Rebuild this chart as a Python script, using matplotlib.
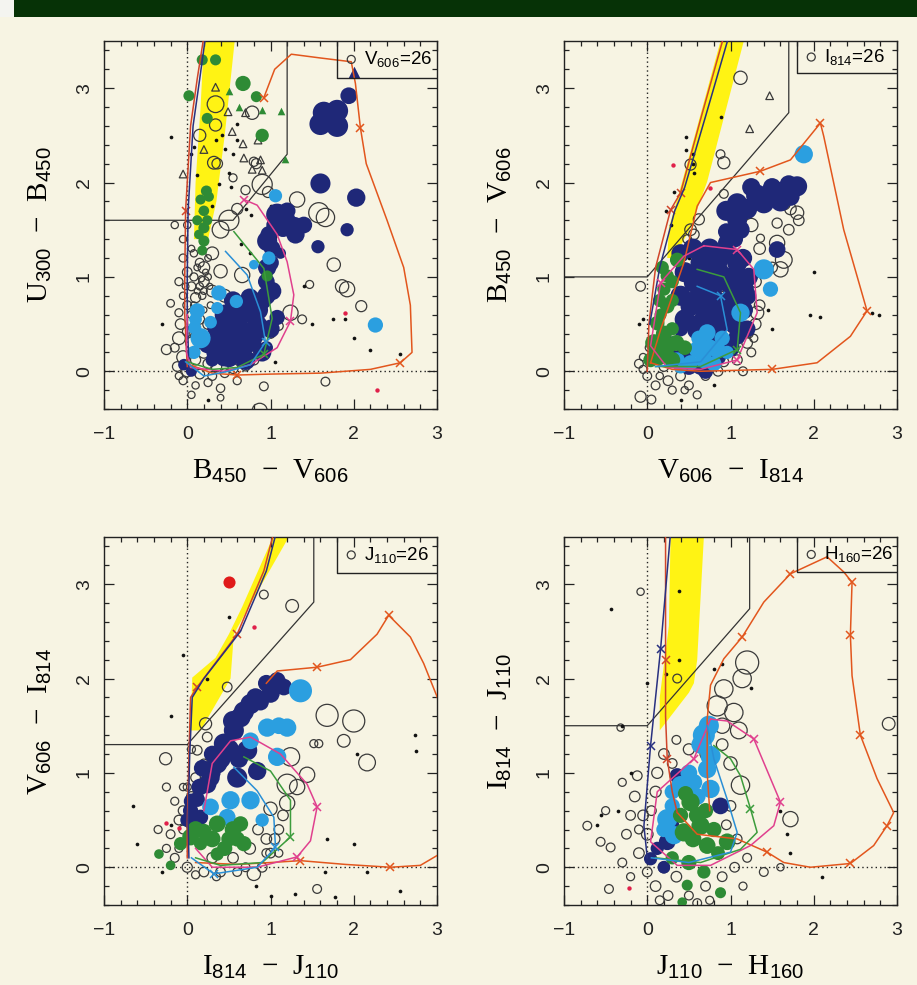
import numpy as np
import matplotlib
matplotlib.use('Agg')
import matplotlib.pyplot as plt
from matplotlib.patches import Polygon, Rectangle

plt.rcParams['mathtext.fontset'] = 'custom'
plt.rcParams['mathtext.rm'] = 'Liberation Sans'
plt.rcParams['mathtext.it'] = 'Liberation Sans'

# ---------------------------------------------------------------- data
# points are (colour, colour, magnitude); mags set the symbol size

# U300-B450 vs B450-V606
TL_OPEN = [(0.34,2.83,24.4),(0.78,2.74,24.9),(0.34,2.61,25.1),(0.15,2.5,25.1),(0.32,2.21,25.0),
           (0.9,1.98,24.0),(1.32,1.82,24.6),(1.58,1.68,24.0),(1.66,1.63,24.2),(0.5,1.6,24.0),
           (0.4,1.5,24.4),(1.76,1.13,24.9),(1.92,0.87,24.6),(1.86,0.9,24.9),(2.09,0.69,25.3),
           (1.24,0.62,24.6),(0.66,1.02,24.6),(0.4,1.06,24.9),(0.2,1.1,25.2),(-0.25,0.23,25.5),
           (0.87,-0.42,24.6),(0.92,-0.16,25.8),(1.66,-0.11,25.8),(1.47,0.92,26.0),(1.38,0.55,25.8),
           (0.97,1.9,25.3),(0.6,1.72,25.3),(0.7,1.92,25.7),(0.55,2.05,26.0),(0.83,2.2,25.5),
           (0.8,2.22,25.7),(0.36,2.2,25.4),
           (-0.05,1.2,26.0),(0.0,1.05,25.6),(-0.1,0.95,26.0),(0.05,0.9,25.8),(0.08,1.0,26.0),
           (-0.05,0.8,26.2),(0.1,0.78,25.5),(0.0,0.7,25.8),(-0.1,0.62,26.0),(0.05,0.6,26.0),
           (0.15,0.55,25.6),(0.25,0.5,25.4),(-0.08,0.5,25.4),(0.0,0.42,25.6),(0.1,0.4,25.2),
           (-0.1,0.35,25.0),(0.05,0.3,25.2),(0.2,0.2,25.2),(-0.05,0.15,25.0),(0.1,0.12,25.5),
           (0.25,0.08,25.5),(0.35,0.05,25.4),(-0.12,0.05,25.6),(0.0,0.0,25.3),(0.15,-0.03,25.6),
           (0.3,-0.05,25.8),(0.45,-0.02,25.8),(0.55,0.03,25.5),(-0.05,-0.1,26.0),(0.1,-0.15,26.2),
           (0.25,-0.12,26.0),(0.4,-0.18,25.9),(0.6,-0.1,26.0),(0.7,0.05,25.8),(0.8,0.12,25.5),
           (0.92,0.2,25.6),(1.0,0.4,25.6),(1.1,0.48,25.8),(0.08,1.25,26.2),(0.15,1.15,25.8),
           (0.2,0.95,25.4),(0.3,0.85,25.2),(0.45,0.8,25.0),(0.3,1.25,25.0),(-0.05,1.4,26.2),
           (0.0,1.55,26.2),(-0.2,0.72,26.1),(-0.15,1.55,26.2),
           (0.15,0.9,26.2),(0.2,0.85,26.4),(0.25,1.0,26.4),(0.12,1.1,26.4),(0.18,0.8,26.2),
           (0.28,0.7,26.4),(0.25,1.2,26.4),(0.05,1.3,26.4),(-0.02,0.9,26.4),(0.1,0.55,26.3),
           (-0.15,0.25,25.8),(-0.1,-0.05,26.2),(0.05,-0.25,26.2),(0.4,-0.28,26.4),(0.22,1.05,26.6),
           (0.17,0.98,26.6),(0.27,0.9,26.6),(0.12,0.85,26.6),(0.08,0.7,26.4),(0.2,0.65,26.6)]
TL_NAVY = [(1.94,2.92,24.4),(1.64,2.74,23.8),(1.8,2.76,23.8),(1.6,2.62,23.8),(1.8,2.6,23.8),
           (1.6,1.99,24.0),(2.03,1.84,24.2),(1.92,1.5,24.9),(1.57,1.32,24.9),(1.08,1.66,23.8),
           (1.28,1.52,23.8),(1.18,1.6,24.0),(0.96,1.38,24.0),(1.12,1.25,25.3),(0.96,1.1,24.2),
           (1.02,0.85,24.2),(0.72,0.64,23.7),(0.52,0.57,24.0),(0.36,0.46,24.0),(0.52,0.32,23.8),
           (0.76,0.32,23.8),(0.84,0.49,24.0),(0.24,0.28,24.4),(0.44,0.14,24.4),(0.64,0.25,24.0),
           (-0.04,0.07,25.2),(1.08,0.57,24.6),(0.9,0.75,24.2),(0.62,0.45,23.8),(0.3,0.12,24.9),
           (0.95,0.25,24.9),
           (0.35,0.2,24.0),(0.5,0.15,24.0),(0.7,0.12,24.0),(0.9,0.2,24.2),(0.4,0.4,23.8),
           (0.6,0.38,23.8),(0.8,0.4,23.8),(1.0,0.45,24.2),(0.45,0.6,24.0),(0.65,0.62,23.8),
           (0.85,0.65,24.0),(0.55,0.75,24.2),(0.75,0.78,24.2),(0.95,0.8,24.2),(0.95,0.95,24.4),
           (1.0,1.15,24.4),(1.02,1.3,24.4),(0.98,1.45,24.4),(1.05,1.55,24.4),(1.15,1.52,24.2),
           (1.3,1.45,24.2),(1.4,1.55,24.4),(1.2,1.7,24.4),(0.05,0.0,25.3)]
TL_LBLUE = [(1.06,1.86,24.9),(0.98,1.2,24.9),(0.8,1.13,25.6),(0.38,0.83,24.6),(0.59,0.74,24.9),
            (0.36,0.67,25.1),(0.12,0.64,24.6),(0.16,0.35,24.0),(0.09,0.46,24.9),(2.26,0.49,24.6),
            (0.08,0.2,24.9),(0.28,0.52,25.0),(0.1,0.55,25.0)]
TL_GREEN = [(0.18,3.3,25.3),(0.34,3.3,25.3),(0.67,3.05,24.6),(0.02,2.92,25.3),(0.83,2.91,25.3),
            (0.24,2.68,25.3),(0.9,2.5,24.9),(0.23,1.91,25.3),(0.16,1.82,25.5),(0.2,1.7,25.4),
            (0.2,1.52,25.3),(0.2,1.38,25.3),(0.18,1.28,25.5),(0.96,1.01,25.3),(0.12,1.6,25.5),
            (0.26,1.85,25.5),(0.24,1.6,25.5),(0.14,1.45,25.6)]
TL_GREEN_TRI = [(0.5,2.97),(0.62,2.8),(0.9,2.77),(1.13,2.76),(1.17,2.25)]
TL_OPEN_TRI = [(0.34,3.01),(0.49,2.75),(0.7,2.74),(0.54,2.54),(0.67,2.41),(0.68,2.26),
               (0.88,2.24),(0.2,2.35),(0.78,2.14),(0.9,2.13),(-0.05,2.09),(0.85,2.45)]
TL_NAVY_TRI = [(2.0,3.17)]
TL_DOTS = [(-0.2,2.48),(0.08,2.38),(0.42,2.5),(0.55,2.3),(0.6,2.45),(0.45,2.36),(0.5,2.1),
           (0.38,1.98),(0.52,1.95),(1.05,1.42),(1.0,1.75),(1.75,0.55),(2.0,0.35),(1.9,0.55),
           (2.2,0.22),(2.55,0.18),(1.4,0.9),(1.5,0.5),(0.65,1.35),(0.75,1.25),(0.25,-0.3),
           (1.05,0.1),(0.55,0.6),(-0.3,0.5),(0.15,1.7),(0.7,1.72),(0.76,1.66),(0.35,2.45),
           (0.6,2.62),(0.04,2.3),(0.12,2.08),(0.3,1.75)]
TL_RED = [(1.9,0.62),(2.28,-0.2)]

# B450-V606 vs V606-I814
TR_OPEN = [(1.12,3.11,24.9),(0.52,2.19,25.3),(0.92,2.21,25.1),(0.88,2.3,25.8),(0.62,1.61,25.3),
           (0.52,1.5,25.2),(0.56,1.45,25.4),(1.64,1.78,24.9),(1.8,1.68,24.9),(1.72,1.72,25.2),
           (1.56,1.57,25.5),(1.56,1.36,24.6),(1.64,1.18,24.4),(1.6,1.08,24.6),(1.32,0.62,24.9),
           (1.3,0.5,25.3),(1.08,0.12,25.5),(0.92,0.1,25.6),(-0.08,-0.27,25.3),(-0.08,0.9,25.6),
           (1.25,0.2,25.8),(1.15,0.0,25.8),(0.4,-0.05,25.6),(0.25,-0.1,25.6),(0.0,-0.05,25.8),
           (-0.1,0.08,25.8),(0.1,-0.15,25.8),(0.5,-0.15,25.8),(0.7,-0.05,25.8),(0.85,0.0,25.6),
           (0.2,0.05,25.6),(1.22,0.4,25.8),(1.2,0.3,25.4),(0.88,0.9,25.3),(0.84,0.7,25.6),
           (1.28,0.35,26.0),(1.55,1.95,25.8),(0.92,1.88,25.8),(1.36,1.41,26.0),(0.48,1.4,25.8),
           (-0.05,0.02,26.0),(0.3,-0.2,26.0),(0.6,-0.25,26.0),
           (1.25,1.55,24.9),(1.35,1.3,25.2),(1.5,1.1,25.4),(1.3,0.95,25.2),(1.35,0.7,25.4),
           (1.7,1.5,25.4),(1.82,1.6,25.4),(0.15,-0.05,26.2),(0.45,-0.2,26.2),(0.05,-0.3,25.8),
           (-0.05,0.15,26.2),(0.02,0.25,26.2)]
TR_NAVY = [(1.08,1.78,24.0),(1.32,1.86,23.8),(1.56,1.89,23.8),(1.8,1.96,24.0),(1.72,1.85,24.2),
           (1.08,1.61,24.0),(1.12,1.5,24.2),(0.96,1.36,24.2),(1.56,1.29,24.4),(0.64,1.15,24.0),
           (0.84,1.18,23.8),(1.08,1.15,24.0),(0.56,0.94,24.0),(0.76,0.87,23.7),(1.0,0.94,23.7),
           (1.16,0.87,24.0),(0.52,0.69,24.0),(0.72,0.62,23.7),(0.92,0.58,23.7),(1.16,0.65,24.2),
           (0.6,0.44,24.0),(0.84,0.34,23.8),(1.08,0.37,24.4),(0.44,0.16,24.2),(0.64,0.05,24.4),
           (0.84,0.16,24.2),(0.4,0.45,24.6),(0.3,0.3,24.9),
           (0.4,1.25,24.2),(0.55,1.3,24.0),(0.75,1.3,24.0),(0.95,1.25,24.0),(1.15,1.2,24.2),
           (0.45,1.05,24.0),(0.65,1.0,23.8),(0.85,1.05,23.8),(1.05,1.0,23.8),(1.22,1.0,24.2),
           (0.4,0.8,24.0),(0.6,0.75,23.8),(0.8,0.75,23.8),(1.0,0.75,23.8),(1.2,0.8,24.2),
           (0.45,0.55,24.0),(0.65,0.5,23.8),(0.85,0.5,23.8),(1.05,0.5,24.0),(1.2,0.45,24.4),
           (1.0,0.25,24.2),(0.3,0.15,24.6),(0.5,0.05,24.4),(0.7,0.0,24.6),
           (0.95,1.7,24.0),(1.2,1.72,24.0),(1.4,1.78,24.0),(1.6,1.8,24.0),(1.5,1.95,24.2),
           (1.25,1.95,24.2),(1.7,1.98,24.2),(0.95,1.48,24.4),(1.05,1.4,24.4)]
TR_LBLUE = [(1.88,2.3,24.2),(1.4,1.08,24.0),(1.48,0.87,24.6),(1.12,0.62,24.2),(0.72,0.41,24.4),
            (0.6,0.23,24.4),(0.84,0.23,24.4),(0.36,0.12,24.6),(0.52,0.09,24.6),(0.96,0.2,24.9),
            (0.62,0.35,24.6),(0.75,0.25,24.4),(0.9,0.35,24.6),(0.68,0.12,24.4),(0.8,0.08,24.6),
            (0.4,0.05,24.8)]
TR_GREEN = [(0.36,1.18,24.7),(0.24,1.01,24.9),(0.2,0.87,24.9),(0.24,0.69,24.7),(0.12,0.51,24.7),
            (0.08,0.3,24.3),(0.24,0.27,24.3),(0.04,0.12,24.7),(0.3,0.45,24.9),(0.16,0.6,25.1),
            (0.1,0.18,24.6),(0.18,1.1,24.9),(0.3,0.95,24.9),(0.15,0.75,24.9),(0.3,0.75,24.9),
            (0.2,0.4,24.5),(0.35,0.3,24.5),(0.45,0.25,24.7),(0.15,0.15,24.5),(0.3,0.12,24.5)]
TR_GREEN_TRI = []
TR_OPEN_TRI = [(1.47,2.92),(1.23,2.57)]
TR_NAVY_TRI = []
TR_DOTS = [(0.32,1.9),(0.28,1.55),(0.55,2.2),(0.55,2.3),(0.56,2.1),(0.47,2.48),(0.47,2.35),
           (-0.1,0.5),(-0.05,0.55),(1.95,0.6),(2.08,0.58),(2.7,0.62),(2.78,0.6),(0.4,-0.3),
           (0.8,-0.15),(1.45,0.65),(1.5,0.45),(2.0,1.05),(0.22,1.7),(0.5,1.2),(0.89,2.69)]
TR_RED = [(0.31,2.19),(0.75,1.94)]

# V606-I814 vs I814-J110
BL_OPEN = [(1.26,2.77,25.0),(0.92,2.89,25.8),(0.48,1.91,25.6),(0.22,1.52,25.1),(-0.26,1.15,25.1),
           (1.68,1.61,23.8),(2.0,1.55,23.8),(1.88,1.34,25.0),(2.16,1.11,24.4),(1.24,1.17,24.2),
           (1.2,0.88,24.0),(1.44,0.98,24.6),(1.32,0.85,24.6),(1.2,0.68,24.6),(1.0,0.62,24.9),
           (0.8,-0.07,24.9),(1.56,-0.23,25.8),(0.12,1.24,25.6),(0.24,1.38,25.6),(0.5,1.35,26.0),
           (1.52,1.31,26.0),(1.58,1.31,26.0),(0.95,0.3,25.4),(1.0,0.15,25.6),(0.85,0.4,25.4),
           (1.1,0.4,25.6),(0.9,0.0,25.6),(0.6,-0.05,25.8),(0.4,-0.05,25.6),(0.2,-0.05,25.6),
           (0.0,0.0,25.5),(-0.15,0.1,25.8),(-0.05,0.4,25.8),(-0.1,0.5,25.6),(-0.05,0.6,25.6),
           (0.05,0.75,25.6),(0.1,0.95,25.6),(0.2,1.1,25.8),(-0.15,0.7,26.0),(0.0,0.85,26.0),
           (-0.2,0.35,25.8),(0.3,0.1,25.4),(0.55,0.1,25.4),(0.75,0.2,25.2),(1.1,0.15,26.0),
           (0.05,1.25,26.0),(-0.35,0.4,26.0),(-0.25,0.85,26.0),
           (1.05,0.3,25.4),(1.15,0.55,25.4),(0.95,0.15,25.8),(-0.1,0.2,26.0),(0.1,-0.08,26.0),
           (-0.25,0.2,26.0),(-0.05,0.85,26.2),(0.35,-0.1,26.0),(0.7,0.0,25.8)]
BL_NAVY = [(1.16,1.91,24.4),(1.0,1.84,24.2),(0.76,1.73,24.0),(0.64,1.59,24.0),(0.56,1.45,24.0),
           (0.44,1.31,24.0),(0.72,1.24,24.0),(0.36,1.1,24.0),(0.6,0.95,24.0),(0.84,1.02,24.2),
           (0.24,0.88,24.2),(0.04,0.6,24.6),(0.16,0.53,24.6),(0.88,1.75,24.4),(0.3,1.0,24.4),
           (0.12,0.72,24.6),
           (0.05,0.7,24.6),(0.15,0.85,24.4),(0.28,0.95,24.2),(0.4,1.15,24.0),(0.5,1.25,24.0),
           (0.55,1.55,24.0),(0.68,1.65,24.0),(0.82,1.8,24.2),(0.95,1.95,24.4),(1.08,1.98,24.4),
           (0.62,1.15,24.2),(0.3,1.2,24.4),(0.18,1.05,24.4),(0.0,0.5,24.8),(0.1,0.45,24.8)]
BL_LBLUE = [(1.36,1.87,23.7),(1.2,1.48,24.2),(0.96,1.48,24.2),(0.76,1.34,24.4),(1.08,1.17,24.2),
            (0.52,0.71,24.2),(0.76,0.71,24.2),(0.28,0.64,24.4),(0.48,0.53,24.4),(1.1,1.5,24.4),
            (0.9,0.5,24.9)]
BL_GREEN = [(0.04,0.32,24.4),(-0.08,0.25,24.9),(0.16,0.25,24.9),(0.36,0.46,24.4),(0.64,0.46,24.6),
            (0.68,0.25,24.6),(0.36,0.14,24.9),(-0.34,0.14,25.6),(-0.2,0.02,25.6),(0.2,0.38,24.6),
            (0.5,0.3,24.6),(0.1,0.4,24.4),(0.3,0.3,24.4),(0.55,0.4,24.4),(0.45,0.2,24.6),
            (0.6,0.3,24.6)]
BL_GREEN_TRI = []
BL_OPEN_TRI = []
BL_NAVY_TRI = []
BL_DOTS = [(-0.65,0.65),(-0.6,0.25),(-0.2,1.6),(0.5,2.65),(0.24,2.0),(-0.05,2.25),(2.04,1.2),
           (2.74,1.4),(2.75,1.23),(1.68,0.3),(2.0,0.25),(2.16,-0.05),(1.78,-0.32),(1.3,-0.28),
           (1.0,-0.3),(0.82,-0.2),(-0.3,-0.05),(-0.2,0.45),(1.65,-0.05),(2.55,-0.25)]
BL_RED = [(0.8,2.55),(-0.1,0.42),(-0.25,0.47)]
BL_BIG_RED = [(0.5,3.02,25.1)]

# I814-J110 vs J110-H160
BR_OPEN = [(1.2,2.17,23.7),(1.14,2.0,24.2),(0.92,1.89,24.2),(0.84,1.71,24.0),(1.04,1.64,24.2),
           (1.1,1.45,24.4),(0.9,1.5,24.6),(1.12,0.87,24.2),(1.72,0.51,24.6),(2.9,1.52,25.0),
           (0.36,2.0,25.8),(-0.08,2.92,26.2),(-0.72,0.44,25.8),(-0.56,0.27,25.8),(-0.44,0.21,25.8),
           (-0.46,-0.23,25.8),(-0.32,1.48,26.2),(-0.12,0.97,25.6),(0.12,1.0,25.3),(0.2,1.2,25.4),
           (0.1,0.8,25.3),(-0.15,0.75,25.4),(-0.2,0.55,25.6),(-0.05,0.55,25.4),(0.0,0.35,25.2),
           (-0.25,0.35,25.6),(-0.1,0.15,25.4),(0.2,0.0,25.3),(0.35,-0.1,25.4),(0.1,-0.2,25.4),
           (0.25,-0.3,25.6),(0.5,-0.3,25.8),(0.7,-0.2,25.6),(0.9,-0.1,25.6),(1.05,0.0,25.6),
           (1.2,0.1,25.8),(0.95,0.45,25.6),(1.0,1.1,24.9),(0.7,1.2,25.3),(1.4,-0.05,25.8),
           (-0.3,0.05,25.8),(-0.3,0.9,26.0),(0.6,-0.38,25.8),(0.15,-0.35,25.8),(1.6,0.0,26.2),
           (1.08,0.3,25.6),(0.5,1.25,25.3),(-0.5,0.6,26.0),
           (0.3,1.1,25.6),(0.35,1.35,25.8),(0.9,1.3,25.2),(1.0,0.65,25.4),(0.05,0.6,25.6),
           (-0.1,0.4,25.8),(0.0,-0.05,25.6),(-0.2,-0.1,26.0),(0.75,-0.35,26.0),(1.15,-0.2,26.0)]
BR_NAVY = [(0.36,0.97,24.6),(0.88,0.65,24.4),(0.24,0.27,24.4),(0.04,0.09,24.9),(0.5,0.95,24.6),
           (0.12,0.2,24.9),(0.2,0.0,25.0),(0.3,0.45,24.8)]
BR_LBLUE = [(0.68,1.4,23.8),(0.76,1.18,24.0),(0.72,1.04,24.2),(0.4,0.87,24.2),(0.76,0.83,24.2),
            (0.24,0.51,24.0),(0.32,0.34,24.2),(0.56,0.9,24.4),(0.3,0.65,24.6),(0.64,1.3,24.2),
            (0.74,1.5,24.0),(0.5,1.0,24.4),(0.3,0.8,24.6),(0.2,0.4,24.6),(0.6,0.75,24.4)]
BR_GREEN = [(0.52,0.69,24.2),(0.64,0.44,24.2),(0.44,0.37,24.2),(0.72,0.23,24.4),(0.96,0.27,24.4),
            (0.68,-0.05,24.9),(0.48,-0.19,25.3),(0.88,-0.27,25.3),(0.42,-0.37,25.6),(0.6,0.55,24.4),
            (0.46,0.78,24.6),(0.3,0.1,24.9),(0.5,0.05,24.6),(0.55,0.3,24.4),(0.8,0.4,24.6),
            (0.7,0.6,24.6),(0.4,0.55,24.6),(0.85,0.15,24.8)]
BR_GREEN_TRI = []
BR_OPEN_TRI = []
BR_NAVY_TRI = []
BR_DOTS = [(-0.44,2.74),(-0.55,0.55),(-0.6,0.45),(-0.3,1.5),(0.38,2.93),(0.38,2.2),(0.22,2.05),
           (0.0,1.95),(-0.2,1.0),(1.68,0.35),(1.6,0.6),(-0.35,0.6),(0.8,2.1),(0.9,2.15),
           (1.72,0.15),(2.1,-0.1),(1.25,1.9)]
BR_RED = [(-0.22,-0.22)]

# model tracks (x, y); *_X lists the track vertices carrying a cross
TL_TRACKS = {
    'orange': [(0.0,0.08),(0.3,-0.02),(0.6,-0.04),(1.0,-0.03),(1.6,-0.02),(2.2,0.02),(2.56,0.09),
               (2.7,0.2),(2.68,0.7),(2.6,1.1),(2.4,1.6),(2.15,2.2),(2.08,2.58),(2.02,3.05),
               (1.97,3.28),(1.6,3.32),(1.25,3.36),(1.05,3.2),(0.92,2.9)],
    'stem': [(0.0,0.05),(-0.03,0.6),(-0.03,1.0),(-0.02,1.7),(0.04,2.6),(0.12,3.1),(0.2,3.55)],
    'navy': [(0.02,0.02),(0.0,0.6),(0.0,1.0),(0.01,1.7),(0.07,2.6),(0.15,3.1),(0.22,3.55)],
    'magenta': [(0.0,0.6),(-0.01,0.2),(0.04,0.04),(0.44,0.0),(0.76,0.07),(1.08,0.25),(1.24,0.53),
                (1.28,0.81),(1.2,1.16),(1.08,1.45),(0.84,1.76),(0.68,1.82)],
    'green': [(0.0,0.1),(0.3,0.02),(0.6,0.04),(0.92,0.18),(1.02,0.56),(0.92,1.09),(0.56,1.48)],
    'blue': [(-0.02,0.1),(0.2,-0.05),(0.5,0.0),(0.76,0.07),(0.94,0.31),(0.88,0.63),(0.72,1.02),
             (0.46,1.27)],
}
TL_X = {'orange': [2, 6, 12, 18], 'stem': [3], 'magenta': [6, 11], 'green': [3], 'blue': [4]}

TR_TRACKS = {
    'orange': [(0.04,0.09),(0.3,0.02),(0.64,0.0),(1.5,0.02),(2.04,0.09),(2.44,0.37),(2.64,0.64),
               (2.36,1.5),(2.12,2.49),(2.08,2.63),(1.72,2.24),(1.36,2.12),(0.76,2.0),(0.6,1.75),
               (0.44,1.15),(0.16,0.44),(0.04,0.09)],
    'stem': [(0.0,0.0),(0.02,0.5),(0.1,1.1),(0.28,1.71),(0.4,1.89),(0.65,2.7),(0.92,3.55)],
    'navy': [(0.03,0.5),(0.15,1.1),(0.33,1.7),(0.45,1.95),(0.7,2.7),(0.98,3.55)],
    'magenta': [(0.68,1.33),(1.08,1.29),(1.28,1.08),(1.32,0.62),(1.08,0.12),(0.64,0.02),
                (0.24,0.04),(0.04,0.27),(0.16,0.94),(0.44,1.22),(0.68,1.33)],
    'green': [(0.1,0.05),(0.64,0.05),(1.08,0.23),(1.12,0.62),(0.92,1.0),(0.6,1.08)],
    'blue': [(0.1,0.05),(0.64,0.1),(0.96,0.44),(0.88,0.8),(0.6,0.9)],
}
TR_X = {'orange': [3, 6, 9, 11], 'stem': [3, 4], 'magenta': [1, 4, 8], 'green': [2], 'blue': [3]}

BL_TRACKS = {
    'orange': [(0.1,0.05),(0.6,0.03),(1.0,0.05),(1.36,0.07),(1.9,0.03),(2.44,0.0),(2.8,0.02),
               (3.05,0.15)],
    'orange2': [(0.95,1.95),(1.08,2.08),(1.56,2.12),(1.96,2.2),(2.28,2.47),(2.42,2.67),
                (2.68,2.44),(2.84,2.16),(3.05,1.7)],
    'stem': [(0.0,0.1),(0.0,0.46),(0.02,1.17),(0.04,1.8),(0.12,1.91),(0.6,2.47),(0.92,3.14),
             (1.04,3.55)],
    'navy': [(0.02,0.1),(0.01,0.5),(0.03,1.2),(0.06,1.8),(0.2,2.0),(0.64,2.5),(0.95,3.14),
             (1.07,3.55)],
    'magenta': [(0.1,0.2),(0.3,0.0),(0.84,0.0),(1.32,0.11),(1.48,0.28),(1.56,0.64),(1.44,0.88),
                (1.12,1.2),(0.76,1.38),(0.52,1.34),(0.3,1.1),(0.2,0.6)],
    'green': [(0.1,0.1),(0.4,0.02),(0.9,0.05),(1.24,0.32),(1.24,0.71),(1.0,1.02),(0.68,1.17)],
    'blue': [(0.05,0.1),(0.32,-0.07),(0.84,0.0),(1.06,0.21),(1.04,0.53),(0.84,0.81),(0.56,1.06)],
}
BL_X = {'orange': [3, 5], 'orange2': [2, 5], 'stem': [4, 5], 'magenta': [3, 5], 'green': [3],
        'blue': [1, 3]}

BR_TRACKS = {
    'orange': [(0.36,0.58),(0.6,0.35),(1.08,0.3),(1.44,0.16),(1.64,0.05),(1.96,0.0),(2.44,0.04),
               (2.72,0.23),(2.88,0.44),(2.96,0.58),(2.76,0.94),(2.56,1.4),(2.46,2.03),(2.44,2.46),
               (2.46,3.02),(2.36,3.13),(2.16,3.29),(1.72,3.11),(1.4,2.81),(1.14,2.44),(0.92,2.21),
               (0.76,1.93),(0.72,1.57),(0.72,1.0),(0.75,0.6)],
    'stem': [(0.36,0.58),(0.3,0.8),(0.24,1.15),(0.22,1.6),(0.22,2.2),(0.22,3.55)],
    'navy': [(0.0,0.1),(-0.04,0.44),(0.04,1.29),(0.16,2.31),(0.28,3.55)],
    'magenta': [(0.76,1.57),(0.96,1.55),(1.28,1.36),(1.6,0.69),(1.52,0.44),(1.24,0.23),(0.76,0.02),
                (0.36,0.02),(0.04,0.27),(0.12,0.8),(0.56,1.15),(0.76,1.57)],
    'green': [(0.1,0.1),(0.64,0.05),(1.12,0.19),(1.32,0.37),(1.24,0.62),(1.12,0.97),(1.0,1.15),
              (0.8,1.29)],
    'blue': [(0.05,0.1),(0.5,0.05),(1.0,0.16),(1.08,0.37),(0.96,0.72),(0.8,1.15),(0.72,1.5)],
}
BR_X = {'orange': [3, 6, 8, 11, 13, 14, 17, 19], 'stem': [2, 4], 'navy': [2, 3],
        'magenta': [2, 3, 10], 'green': [4]}

# stellar locus (yellow band) and selection boundaries
TL_BAND = [(0.2,3.5),(0.57,3.5),(0.45,2.5),(0.35,1.8),(0.25,1.4),(0.08,1.4),(0.1,2.0),(0.16,2.8)]
TR_BAND = [(0.88,3.5),(1.16,3.5),(0.72,2.01),(0.52,1.52),(0.32,1.2),(0.24,1.2),(0.26,1.52),
           (0.42,2.01)]
BL_BAND = [(1.03,3.5),(1.22,3.5),(0.74,2.76),(0.56,2.47),(0.52,2.0),(0.16,1.45),(0.04,1.45),
           (0.06,2.01),(0.34,2.22),(0.5,2.47),(0.66,2.76)]
BR_BAND = [(0.28,3.5),(0.68,3.5),(0.6,2.2),(0.56,1.95),(0.5,1.85),(0.15,1.45),(0.15,1.8),
           (0.26,2.56)]
TL_CUT = [(-1.0,1.6),(0.55,1.6),(1.2,2.3),(1.2,3.5)]
TR_CUT = [(-1.0,1.0),(0.0,1.0),(1.7,2.74),(1.7,3.5)]
BL_CUT = [(-1.0,1.3),(0.0,1.3),(1.52,2.81),(1.52,3.5)]
BR_CUT = [(-1.0,1.5),(0.0,1.5),(1.23,2.74),(1.23,3.5)]
TL_KEY = 3.11
TR_KEY = 3.16
BL_KEY = 3.12
BR_KEY = 3.13

XLABELS = ['B$_{450}$  −  V$_{606}$', 'V$_{606}$  −  I$_{814}$',
           'I$_{814}$  −  J$_{110}$', 'J$_{110}$  −  H$_{160}$']
YLABELS = ['U$_{300}$  −  B$_{450}$', 'B$_{450}$  −  V$_{606}$',
           'V$_{606}$  −  I$_{814}$', 'I$_{814}$  −  J$_{110}$']
KEYLABELS = ['V$_{606}$=26', 'I$_{814}$=26', 'J$_{110}$=26', 'H$_{160}$=26']

# ---------------------------------------------------------------- styling
PAPER = '#f7f4e3'
NAVY = '#1f2878'
LBLUE = '#2b9fe0'
GREEN = '#2e8b35'
YELLOW = '#fff314'
EDGE = '#3a3a3a'
TRACK_COL = {'orange': '#e2561d', 'orange2': '#e2561d', 'stem': '#d0452a', 'navy': '#283080',
             'magenta': '#e0408e', 'green': '#3c9c3c', 'blue': '#2a8fd6'}


def msize(m):
    d = 8.0 * 10 ** (0.2 * (26.0 - np.asarray(m, dtype=float)))  # diameter in pixels
    return (d * 0.72) ** 2


def xy(pts):
    return np.array(pts, dtype=float)


def draw_panel(ax, p):
    ax.set_facecolor(PAPER)
    ax.set_xlim(-1, 3)
    ax.set_ylim(-0.4, 3.5)

    ax.add_patch(Polygon(p['band'], closed=True, facecolor=YELLOW, edgecolor='none', zorder=1))
    c = xy(p['cut'])
    ax.plot(c[:, 0], c[:, 1], color='#333333', lw=0.9, zorder=2)
    ax.axhline(0, color='#222222', lw=1.0, ls=(0, (1, 2.2)), zorder=2)
    ax.axvline(0, color='#222222', lw=1.0, ls=(0, (1, 2.2)), zorder=2)

    o = xy(p['open'])
    ax.scatter(o[:, 0], o[:, 1], s=msize(o[:, 2]), facecolors='none', edgecolors=EDGE,
               linewidths=0.9, zorder=3)
    d = xy(p['dots'])
    ax.scatter(d[:, 0], d[:, 1], s=7, color='#111111', lw=0, zorder=3)
    if p['otri']:
        t = xy(p['otri'])
        ax.scatter(t[:, 0], t[:, 1], s=30, marker='^', facecolors='none', edgecolors=EDGE,
                   linewidths=0.9, zorder=3)
    for key, col in (('navy', NAVY), ('lblue', LBLUE), ('green', GREEN)):
        f = xy(p[key])
        ax.scatter(f[:, 0], f[:, 1], s=msize(f[:, 2]), color=col, lw=0, zorder=4)
    if p['gtri']:
        t = xy(p['gtri'])
        ax.scatter(t[:, 0], t[:, 1], s=30, marker='^', color=GREEN, lw=0, zorder=4)
    if p['ntri']:
        t = xy(p['ntri'])
        ax.scatter(t[:, 0], t[:, 1], s=70, marker='^', color=NAVY, lw=0, zorder=4)
    r = xy(p['red'])
    ax.scatter(r[:, 0], r[:, 1], s=10, color='#e0204a', lw=0, zorder=4)
    if p.get('bigred'):
        b = xy(p['bigred'])
        ax.scatter(b[:, 0], b[:, 1], s=msize(b[:, 2]), color='#e01a1a', lw=0, zorder=4)

    for name, pts in p['tracks'].items():
        t = xy(pts)
        ax.plot(t[:, 0], t[:, 1], color=TRACK_COL[name], lw=1.1, zorder=5,
                marker='x', markersize=6, markeredgewidth=1.1,
                markevery=p['marks'].get(name, []))

    # key box in the upper right corner
    k = p['key']
    ax.plot([1.8, 1.8, 3.0], [3.5, k, k], color='#222222', lw=1.0, zorder=6)
    ky = (k + 3.5) / 2
    ax.scatter([1.97], [ky], s=msize(26.0), facecolors='none', edgecolors=EDGE,
               linewidths=0.9, zorder=6)
    ax.text(2.12, ky, p['keylabel'], ha='left', va='center', fontsize=13.5,
            family='Liberation Sans', zorder=6)

    ax.set_xticks([-1, 0, 1, 2, 3])
    ax.set_yticks([0, 1, 2, 3])
    ax.set_xticks(np.arange(-1, 3.01, 0.2), minor=True)
    ax.set_yticks(np.arange(-0.4, 3.51, 0.2), minor=True)
    ax.tick_params(which='both', direction='in', top=True, right=True, width=0.9,
                   colors='#222222')
    ax.tick_params(which='major', length=7)
    ax.tick_params(which='minor', length=3.5)
    ax.tick_params(axis='x', labelsize=14, pad=12)
    ax.tick_params(axis='y', labelsize=14, pad=8, labelrotation=90)
    for lab in ax.get_xticklabels() + ax.get_yticklabels():
        lab.set_family('Liberation Sans')
    for lab in ax.get_yticklabels():
        lab.set_va('center')
    for s in ax.spines.values():
        s.set_linewidth(1.0)
        s.set_color('#222222')

    ax.set_xlabel(p['xlabel'], fontsize=21, family='Liberation Serif')
    ax.set_ylabel(p['ylabel'], fontsize=21, family='Liberation Serif')
    ax.xaxis.set_label_coords(0.5, -0.13)
    ax.yaxis.set_label_coords(-0.15, 0.5)


PANELS = [
    dict(open=TL_OPEN, navy=TL_NAVY, lblue=TL_LBLUE, green=TL_GREEN, gtri=TL_GREEN_TRI,
         otri=TL_OPEN_TRI, ntri=TL_NAVY_TRI, dots=TL_DOTS, red=TL_RED, tracks=TL_TRACKS,
         marks=TL_X, band=TL_BAND, cut=TL_CUT, key=TL_KEY),
    dict(open=TR_OPEN, navy=TR_NAVY, lblue=TR_LBLUE, green=TR_GREEN, gtri=TR_GREEN_TRI,
         otri=TR_OPEN_TRI, ntri=TR_NAVY_TRI, dots=TR_DOTS, red=TR_RED, tracks=TR_TRACKS,
         marks=TR_X, band=TR_BAND, cut=TR_CUT, key=TR_KEY),
    dict(open=BL_OPEN, navy=BL_NAVY, lblue=BL_LBLUE, green=BL_GREEN, gtri=BL_GREEN_TRI,
         otri=BL_OPEN_TRI, ntri=BL_NAVY_TRI, dots=BL_DOTS, red=BL_RED, bigred=BL_BIG_RED,
         tracks=BL_TRACKS, marks=BL_X, band=BL_BAND, cut=BL_CUT, key=BL_KEY),
    dict(open=BR_OPEN, navy=BR_NAVY, lblue=BR_LBLUE, green=BR_GREEN, gtri=BR_GREEN_TRI,
         otri=BR_OPEN_TRI, ntri=BR_NAVY_TRI, dots=BR_DOTS, red=BR_RED, tracks=BR_TRACKS,
         marks=BR_X, band=BR_BAND, cut=BR_CUT, key=BR_KEY),
]
for p, xl, yl, kl in zip(PANELS, XLABELS, YLABELS, KEYLABELS):
    p['xlabel'], p['ylabel'], p['keylabel'] = xl, yl, kl

W, H = 917, 985
fig = plt.figure(figsize=(W / 100, H / 100), dpi=100, facecolor=PAPER)
# dark banner along the top edge
fig.patches.append(Rectangle((14 / W, 1 - 17 / H), 1, 17 / H, transform=fig.transFigure,
                             facecolor='#063206', edgecolor='none', zorder=0))
fig.patches.append(Rectangle((0, 1 - 17 / H), 14 / W, 17 / H, transform=fig.transFigure,
                             facecolor='#f4f4f0', edgecolor='none', zorder=0))

boxes = [(104, 41), (564, 41), (104, 537), (564, 537)]
for (left, top), p in zip(boxes, PANELS):
    ax = fig.add_axes([left / W, 1 - (top + 368) / H, 333 / W, 368 / H])
    draw_panel(ax, p)

fig.savefig('out.png', dpi=100, facecolor=PAPER)
